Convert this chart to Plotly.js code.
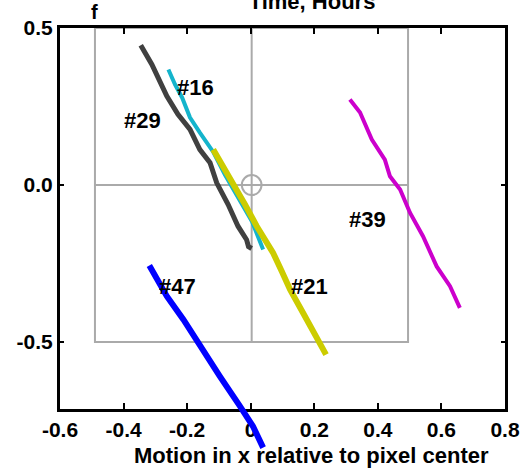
<!DOCTYPE html>
<html><head><meta charset="utf-8">
<script src="https://cdn.plot.ly/plotly-3.0.1.min.js"></script>
<style>html,body{margin:0;padding:0;background:#fff;}#chart{width:523px;height:473px;}</style>
</head><body><div id="chart"></div>
<script>
// ---- data ----
const x29 = [-0.346,-0.311,-0.264,-0.229,-0.191,-0.160,-0.128,-0.107,-0.071,-0.040,-0.013,-0.007,0.003];
const y29 = [0.445,0.384,0.283,0.225,0.177,0.113,0.071,0.007,-0.062,-0.131,-0.174,-0.196,-0.202];
const x16 = [-0.259,-0.238,-0.216,-0.191,-0.160,-0.134,-0.119,-0.081,-0.034,0.004,0.039];
const y16 = [0.368,0.320,0.279,0.215,0.167,0.129,0.107,0.033,-0.046,-0.116,-0.205];
const x21 = [-0.118,-0.090,-0.055,-0.018,0.019,0.045,0.070,0.098,0.124,0.164,0.186,0.208,0.237];
const y21 = [0.113,0.065,0.007,-0.062,-0.131,-0.174,-0.215,-0.275,-0.333,-0.406,-0.444,-0.482,-0.540];
const x39 = [0.312,0.344,0.381,0.422,0.438,0.470,0.501,0.542,0.585,0.627,0.658];
const y39 = [0.272,0.231,0.145,0.081,0.028,-0.014,-0.088,-0.163,-0.259,-0.322,-0.391];
const x47 = [-0.319,-0.292,-0.264,-0.212,-0.160,-0.128,-0.097,-0.034,0.007,0.039];
const y47 = [-0.256,-0.301,-0.354,-0.428,-0.513,-0.562,-0.609,-0.704,-0.768,-0.836];
const labelText = ["#16","#29","#39","#47","#21"];
const labelX = [-0.175,-0.339,0.366,-0.229,0.186];
const labelY = [0.311,0.205,-0.110,-0.323,-0.323];
const xTickVals = [-0.6,-0.4,-0.2,0,0.2,0.4,0.6,0.8];
const xTickText = ["-0.6","-0.4","-0.2","0","0.2","0.4","0.6","0.8"];
const yTickVals = [-0.5,0,0.5];
const yTickText = ["-0.5","0.0","0.5"];

// ---- layout geometry ----
const W=523,H=473, mt=28, mb=20, ml=60, mr=18;
const axisBottomPx = 409;
const ph = H-mt-mb;
const pw = W-ml-mr;
const dLow = (H-mb-axisBottomPx)/ph;
const yMain = [-0.713, 0.5];
const scale = (axisBottomPx-mt)/(yMain[1]-yMain[0]);
const yExt = [yMain[1]-ph/scale, yMain[1]];
const xRange = [-0.6, 0.8];
const FONT = {family:"Liberation Sans, Arial, sans-serif", color:"#000", weight:"bold"};
const grey = "#aaaaaa";

function line(x,y,color,w,xa,ya){return {x:x,y:y,type:"scatter",mode:"lines",line:{color:color,width:w},xaxis:xa||"x",yaxis:ya||"y",hoverinfo:"skip",showlegend:false};}
const traces = [
  line(x29,y29,"#404040",5),
  line(x16,y16,"#14b4cc",4),
  line(x21,y21,"#cccc00",6),
  line(x39,y39,"#cc00cc",4),
  line(x47,y47,"#0000ff",6,"x2","y2")
];

const annotations = labelText.map((t,i)=>({x:labelX[i],y:labelY[i],xref:"x",yref:"y",xanchor:"center",yanchor:"middle",text:t,showarrow:false,font:Object.assign({size:22},FONT)}));
annotations.push({x:(94-ml)/pw,y:(H-mb-12)/ph,xref:"paper",yref:"paper",xanchor:"center",yanchor:"middle",text:"f",showarrow:false,font:Object.assign({size:20},FONT)});
annotations.push({x:(311-ml)/pw,y:(H-mb-455)/ph,xref:"paper",yref:"paper",xanchor:"center",yanchor:"middle",text:"Motion in x relative to pixel center",showarrow:false,font:Object.assign({size:22},FONT)});

const layout = {
  width:W,height:H,margin:{l:ml,r:mr,t:mt,b:mb,pad:0},
  paper_bgcolor:"#fff",plot_bgcolor:"rgba(0,0,0,0)",
  title:{text:"Time, Hours",x:312/W,xanchor:"center",y:1-1/H,yanchor:"middle",font:Object.assign({size:22},FONT)},
  xaxis:{domain:[0,1],range:xRange,tickvals:xTickVals,ticktext:xTickText,ticks:"inside",ticklen:6,tickwidth:2,tickcolor:"#000",
    showline:true,linecolor:"#000",linewidth:3,mirror:"ticks",showgrid:false,zeroline:false,tickfont:Object.assign({size:21},FONT),anchor:"y"},
  yaxis:{domain:[dLow,1],range:yMain,tickvals:yTickVals,ticktext:yTickText,ticks:"inside",ticklen:4,tickwidth:2,tickcolor:"#000",
    showline:true,linecolor:"#000",linewidth:3,mirror:"ticks",showgrid:false,zeroline:false,tickfont:Object.assign({size:21},FONT),anchor:"x"},
  xaxis2:{domain:[0,1],range:xRange,visible:false,anchor:"y2",fixedrange:true},
  yaxis2:{domain:[0,1],range:yExt,visible:false,anchor:"x2",fixedrange:true},
  shapes:[
    {type:"rect",xref:"x",yref:"y",x0:-0.49,x1:0.495,y0:-0.5,y1:0.5,line:{color:grey,width:2},layer:"below"},
    {type:"line",xref:"x",yref:"y",x0:0.003,x1:0.003,y0:-0.5,y1:0.5,line:{color:grey,width:2},layer:"below"},
    {type:"line",xref:"x",yref:"y",x0:-0.49,x1:0.495,y0:0,y1:0,line:{color:grey,width:2},layer:"below"},
    {type:"circle",xref:"x",yref:"y",x0:-0.028,x1:0.034,y0:-0.032,y1:0.032,line:{color:grey,width:2},layer:"below"}
  ],
  annotations:annotations,showlegend:false
};
Plotly.newPlot("chart",traces,layout,{staticPlot:true,displayModeBar:false});
</script></body></html>
